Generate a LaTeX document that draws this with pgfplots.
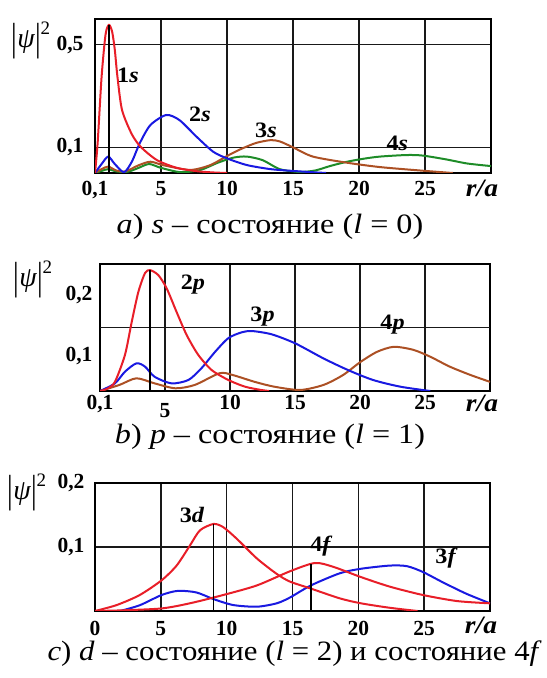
\documentclass[border=0pt]{standalone}
\usepackage{pgfplots}
\pgfplotsset{compat=1.18}
\usepackage{fontspec}
\setmainfont{Liberation Serif}

\definecolor{cred}{RGB}{232,30,40}
\definecolor{cblue}{RGB}{25,25,225}
\definecolor{cbrown}{RGB}{172,80,36}
\definecolor{cgreen}{RGB}{30,140,40}

\newcommand{\tickfont}{\bfseries\fontsize{21.5bp}{24bp}\selectfont}
\newcommand{\curvefont}{\bfseries\fontsize{22bp}{24bp}\selectfont}
\newcommand{\cl}[1]{\scalebox{1.1}[1]{#1}}
\newcommand{\capt}[2][1.15]{{\fontsize{28bp}{30bp}\selectfont\scalebox{#1}[1]{#2}}}
\newcommand{\psilabel}{{\fontsize{28bp}{30bp}\selectfont\raisebox{-3bp}{\scalebox{1}[1.4]{|}}\textit{ψ}\raisebox{-3bp}{\scalebox{1}[1.4]{|}}\raisebox{13bp}{\fontsize{19bp}{19bp}\selectfont 2}}}
\newcommand{\ra}{{\bfseries\itshape\fontsize{25bp}{27bp}\selectfont\scalebox{1.1}[1]{r/a}}}

\pgfplotsset{
  panel/.style={
    scale only axis,
    xmin=0, xmax=30, ymin=0,
    axis line style={black, line width=1.4bp},
    major tick length=0pt,
    xtick={0,5,10,15,20,25},
    xmajorgrids,
    major grid style={black!90, line width=1.5bp},
    ticklabel style={font=\tickfont},
    every axis plot/.append style={line width=2bp, smooth, tension=0.45},
    clip=true,
  },
}

\begin{document}
\begin{tikzpicture}
\path[use as bounding box] (0,0) rectangle (547bp,678bp);

% ---------------- a) s-states ----------------
\begin{axis}[panel,
  at={(95bp,505bp)}, anchor=south west,
  width=396bp, height=154bp, ymax=0.6,
  ytick={0.1,0.5}, yticklabels={{0,1},{0,5}}, ymajorgrids,
  xticklabels={{0,1},5,10,15,20,25},
  xticklabel style={anchor=base, yshift=-23bp},
  yticklabel style={anchor=center, xshift=-25bp},
]
\addplot[cgreen] coordinates {(0,0) (0.5,0.008) (1,0.015) (1.6,0.006) (2.5,0.005) (3.3,0.02) (4.1,0.035) (5,0.02) (6.5,0.003) (8,0.012) (9.3,0.04) (10.5,0.06) (11.5,0.064) (12.7,0.05) (14,0.015) (15.5,0.004) (16.7,0.01) (17.8,0.027) (19.1,0.044) (20.4,0.056) (21.6,0.064) (23.6,0.07) (24.8,0.068) (26.6,0.053) (28.2,0.037) (30,0.027)};
\addplot[cbrown] coordinates {(0,0) (0.5,0.015) (1,0.025) (1.6,0.01) (2.3,0.006) (3.3,0.03) (4.2,0.044) (5.2,0.03) (7.2,0.012) (8.7,0.03) (10,0.066) (11,0.092) (12.2,0.117) (13.3,0.128) (14,0.123) (15,0.1) (16.5,0.064) (19.1,0.04) (21.6,0.023) (24.8,0.009) (27.1,0.0)};
\addplot[cblue] coordinates {(0,0) (0.5,0.035) (1,0.064) (1.5,0.035) (2.2,0.003) (2.8,0.045) (3.4,0.117) (4.2,0.187) (5.4,0.226) (6.4,0.206) (7.7,0.141) (8.95,0.083) (10,0.057) (11.5,0.031) (13.3,0.015) (15,0.008) (16.5,0.003) (17.5,0)};
\addplot[cred] coordinates {(0,0) (0.2,0.117) (0.5,0.375) (0.8,0.54) (1.06,0.577) (1.3,0.55) (1.5,0.48) (1.7,0.375) (2.05,0.245) (2.8,0.15) (3.5,0.1) (4.7,0.05) (6.2,0.02) (7.7,0.007) (9,0.002) (10,0)};
\addplot[black, line width=1.7bp, sharp plot] coordinates {(1.06,0) (1.06,0.577)};
\node[font=\curvefont] at (axis cs:2.5,0.382) {\cl{1\textit{s}}};
\node[font=\curvefont] at (axis cs:7.95,0.23) {\cl{2\textit{s}}};
\node[font=\curvefont] at (axis cs:12.95,0.1675) {\cl{3\textit{s}}};
\node[font=\curvefont] at (axis cs:22.9,0.117) {\cl{4\textit{s}}};
\end{axis}
\node at (31bp,638bp) {\psilabel};
\node at (482bp,490bp) {\ra};
\node at (270bp,451bp) {\capt{\textit{a}) \textit{s} – состояние (\textit{l} = 0)}};

% ---------------- b) p-states ----------------
\begin{axis}[panel,
  at={(100bp,287bp)}, anchor=south west,
  width=390bp, height=127bp, ymax=0.25,
  ytick={0.069,0.189}, yticklabels={{0,1},{0,2}},
  extra y ticks={0.125}, extra y tick labels={},
  extra y tick style={ymajorgrids},
  xticklabels={{0,1},\raisebox{-8bp}{5},10,15,20,25},
  xticklabel style={anchor=base, yshift=-19bp},
  yticklabel style={anchor=center, xshift=-21bp},
]
\addplot[cbrown] coordinates {(0,0) (1.5,0.012) (2.8,0.025) (4.2,0.015) (5.8,0.0053) (7.3,0.012) (9.2,0.035) (10.2,0.0315) (11.9,0.018) (13.4,0.0085) (15.4,0.002) (17.2,0.012) (18.7,0.0315) (20,0.0565) (21.3,0.077) (22.6,0.087) (24.1,0.081) (25.4,0.0675) (26.9,0.048) (28.5,0.0315) (30,0.018)};
\addplot[cblue] coordinates {(0,0) (1.15,0.015) (1.92,0.038) (2.8,0.0545) (3.46,0.048) (4.2,0.028) (5.5,0.015) (6.8,0.0217) (7.8,0.0447) (8.85,0.077) (9.87,0.104) (10.9,0.1155) (11.7,0.118) (13.2,0.1116) (15,0.094) (17.2,0.064) (19.1,0.041) (21,0.0217) (23.1,0.0085) (25.4,0)};
\addplot[cred] coordinates {(0,0) (0.6,0.005) (1.15,0.018) (1.92,0.071) (2.44,0.136) (2.95,0.195) (3.46,0.232) (3.85,0.238) (4.49,0.228) (5.13,0.202) (5.9,0.155) (6.67,0.11) (7.56,0.071) (8.6,0.041) (9.87,0.0217) (11.15,0.0085) (12.4,0.002) (13,0)};
\addplot[black, line width=1.7bp, sharp plot] coordinates {(3.85,0) (3.85,0.238)};
\node[font=\curvefont] at (axis cs:7.15,0.209) {\cl{2\textit{p}}};
\node[font=\curvefont] at (axis cs:12.5,0.146) {\cl{3\textit{p}}};
\node[font=\curvefont] at (axis cs:22.5,0.13) {\cl{4\textit{p}}};
\end{axis}
\node at (33bp,399bp) {\psilabel};
\node at (482bp,275bp) {\ra};
\node at (270bp,241bp) {\capt{\textit{b}) \textit{p} – состояние (\textit{l} = 1)}};

% ---------------- c) d-states and 4f ----------------
\begin{axis}[panel,
  at={(95bp,67bp)}, anchor=south west,
  width=395bp, height=128bp, ymax=0.2,
  ytick={0.1,0.2}, yticklabels={{0,1},{0,2}}, ymajorgrids,
  xticklabels={0,5,10,15,20,25},
  xticklabel style={anchor=base, yshift=-24bp},
  yticklabel style={anchor=center, xshift=-24bp},
]
\addplot[cblue] coordinates {(1.9,0) (3.4,0.009) (5.06,0.025) (6.3,0.0315) (7.7,0.029) (9,0.0186) (10.5,0.0093) (12.3,0.0067) (13.8,0.012) (14.8,0.021) (16.4,0.04) (18.6,0.059) (20.2,0.066) (22.4,0.071) (23.7,0.07) (24.9,0.061) (26.4,0.045) (28.2,0.027) (30,0.012)};
\addplot[cred] coordinates {(0,0) (1.65,0.0093) (3.4,0.025) (5.06,0.048) (6.2,0.071) (7.2,0.102) (7.97,0.126) (9,0.136) (9.74,0.131) (10.76,0.113) (12.3,0.082) (13.8,0.058) (14.8,0.046) (16.4,0.035) (18.6,0.0197) (20.2,0.012) (22.4,0.005) (24.5,0)};
\addplot[cred] coordinates {(0,0) (2,0.001) (5.06,0.004) (7.2,0.012) (9.74,0.025) (12.3,0.04) (14.8,0.062) (16.7,0.075) (18.1,0.069) (20.2,0.053) (22.4,0.038) (24.9,0.025) (27.5,0.0155) (30,0.012)};
\addplot[black, line width=1.7bp, sharp plot] coordinates {(9,0) (9,0.136)};
\addplot[black, line width=1.7bp, sharp plot] coordinates {(16.4,0) (16.4,0.074)};
\node[font=\curvefont] at (axis cs:7.37,0.150) {\cl{3\textit{d}}};
\node[font=\curvefont] at (axis cs:17.2,0.101) {\cl{4\textit{f}}};
\node[font=\curvefont] at (axis cs:26.7,0.082) {\cl{3\textit{f}}};
\end{axis}
\node at (27bp,186bp) {\psilabel};
\node at (481bp,53bp) {\ra};
\node[anchor=west] at (44bp,24bp) {\capt[1.1]{\textit{c}) \textit{d} – состояние (\textit{l} = 2) и состояние 4\textit{f}}};
\end{tikzpicture}
\end{document}
